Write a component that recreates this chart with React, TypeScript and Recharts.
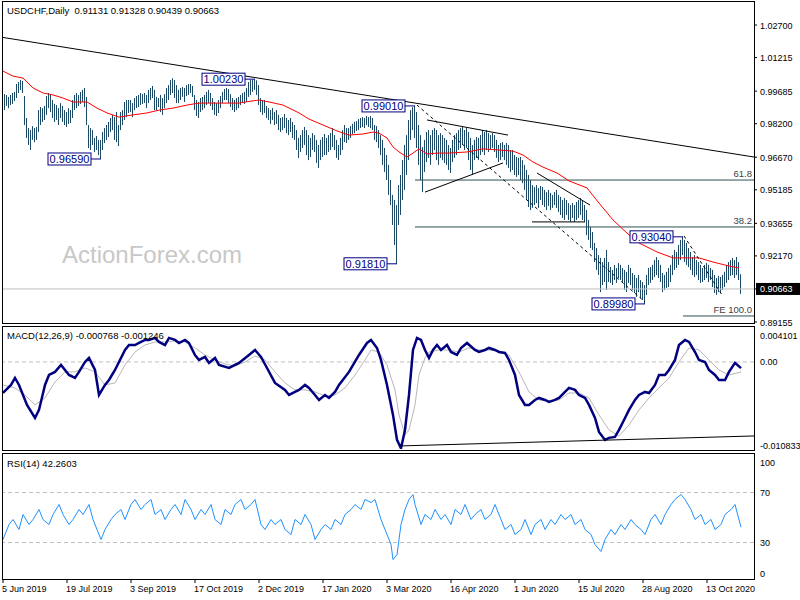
import React from "react";
import { ComposedChart, Bar, Line, XAxis, YAxis, ReferenceLine, ReferenceDot } from "recharts";

// daily bars, 5 Jun 2019 .. end Oct 2020 (index 0 = 5 Jun 2019)
const HIGH = [
  0.9960, 0.9955, 0.9951, 0.9942, 0.9951, 0.9960, 0.9965, 1.0001, 1.0010, 1.0019,
  1.0015, 0.9946, 0.9846, 0.9800, 0.9791, 0.9809, 0.9800, 0.9805, 0.9882, 0.9896,
  0.9891, 0.9901, 0.9946, 0.9960, 0.9951, 0.9928, 0.9910, 0.9905, 0.9891, 0.9914,
  0.9901, 0.9882, 0.9873, 0.9891, 0.9882, 0.9928, 0.9951, 0.9960, 0.9951, 0.9965,
  0.9974, 0.9983, 0.9942, 0.9814, 0.9800, 0.9791, 0.9755, 0.9764, 0.9746, 0.9746,
  0.9782, 0.9800, 0.9814, 0.9828, 0.9846, 0.9860, 0.9850, 0.9873, 0.9814, 0.9873,
  0.9882, 0.9919, 0.9928, 0.9928, 0.9928, 0.9914, 0.9937, 0.9946, 0.9951, 0.9960,
  0.9955, 0.9960, 0.9951, 0.9974, 0.9983, 0.9992, 0.9974, 0.9942, 0.9937, 0.9951,
  0.9937, 0.9955, 0.9983, 0.9996, 1.0019, 1.0027, 1.0019, 0.9996, 0.9974, 0.9983,
  0.9987, 0.9983, 0.9996, 1.0001, 1.0001, 0.9992, 0.9951, 0.9928, 0.9919, 0.9937,
  0.9942, 0.9951, 0.9965, 0.9974, 0.9960, 0.9937, 0.9919, 0.9914, 0.9928, 0.9946,
  0.9965, 0.9978, 0.9983, 0.9978, 0.9955, 0.9937, 0.9928, 0.9937, 0.9942, 0.9951,
  0.9960, 0.9965, 0.9983, 1.0010, 1.0019, 1.0020, 1.0023, 1.0018, 0.9996, 0.9937,
  0.9928, 0.9928, 0.9901, 0.9891, 0.9882, 0.9891, 0.9873, 0.9882, 0.9860, 0.9846,
  0.9850, 0.9864, 0.9846, 0.9837, 0.9846, 0.9828, 0.9814, 0.9791, 0.9755, 0.9768,
  0.9791, 0.9805, 0.9791, 0.9768, 0.9755, 0.9777, 0.9768, 0.9746, 0.9723, 0.9746,
  0.9759, 0.9773, 0.9755, 0.9768, 0.9777, 0.9800, 0.9768, 0.9746, 0.9723, 0.9755,
  0.9791, 0.9814, 0.9800, 0.9800, 0.9809, 0.9819, 0.9828, 0.9832, 0.9841, 0.9846,
  0.9850, 0.9846, 0.9855, 0.9850, 0.9855, 0.9846, 0.9814, 0.9809, 0.9791, 0.9768,
  0.9746, 0.9709, 0.9677, 0.9632, 0.9563, 0.9495, 0.9472, 0.9449, 0.9540, 0.9586,
  0.9654, 0.9723, 0.9768, 0.9837, 0.9882, 0.9895, 0.9901, 0.9873, 0.9814, 0.9768,
  0.9714, 0.9746, 0.9782, 0.9791, 0.9768, 0.9791, 0.9800, 0.9791, 0.9768, 0.9777,
  0.9768, 0.9755, 0.9746, 0.9723, 0.9709, 0.9746, 0.9768, 0.9777, 0.9791, 0.9800,
  0.9805, 0.9791, 0.9800, 0.9782, 0.9755, 0.9723, 0.9746, 0.9759, 0.9755, 0.9768,
  0.9791, 0.9782, 0.9791, 0.9777, 0.9768, 0.9777, 0.9768, 0.9746, 0.9723, 0.9732,
  0.9736, 0.9723, 0.9732, 0.9723, 0.9700, 0.9700, 0.9677, 0.9668, 0.9664, 0.9668,
  0.9654, 0.9632, 0.9609, 0.9586, 0.9563, 0.9540, 0.9531, 0.9540, 0.9527, 0.9536,
  0.9531, 0.9518, 0.9508, 0.9518, 0.9504, 0.9495, 0.9508, 0.9518, 0.9495, 0.9486,
  0.9472, 0.9481, 0.9472, 0.9458, 0.9449, 0.9458, 0.9449, 0.9463, 0.9472, 0.9481,
  0.9472, 0.9449, 0.9426, 0.9381, 0.9349, 0.9326, 0.9276, 0.9253, 0.9221, 0.9208,
  0.9189, 0.9208, 0.9244, 0.9189, 0.9166, 0.9153, 0.9176, 0.9162, 0.9185, 0.9176,
  0.9162, 0.9153, 0.9144, 0.9176, 0.9162, 0.9139, 0.9130, 0.9116, 0.9130, 0.9107,
  0.9098, 0.9084, 0.9130, 0.9162, 0.9166, 0.9176, 0.9198, 0.9212, 0.9198, 0.9176,
  0.9139, 0.9130, 0.9144, 0.9162, 0.9176, 0.9221, 0.9244, 0.9235, 0.9267, 0.9290,
  0.9304, 0.9290, 0.9276, 0.9253, 0.9235, 0.9212, 0.9221, 0.9198, 0.9189, 0.9176,
  0.9162, 0.9176, 0.9185, 0.9176, 0.9162, 0.9153, 0.9130, 0.9116, 0.9126, 0.9121,
  0.9130, 0.9144, 0.9176, 0.9189, 0.9198, 0.9208, 0.9198, 0.9212, 0.9189, 0.9133,
];

const LOW = [
  0.9860, 0.9882, 0.9901, 0.9891, 0.9905, 0.9910, 0.9923, 0.9937, 0.9960, 0.9974,
  0.9960, 0.9814, 0.9755, 0.9723, 0.9700, 0.9746, 0.9736, 0.9746, 0.9782, 0.9814,
  0.9828, 0.9837, 0.9860, 0.9891, 0.9873, 0.9846, 0.9828, 0.9837, 0.9814, 0.9846,
  0.9828, 0.9814, 0.9805, 0.9819, 0.9823, 0.9846, 0.9882, 0.9891, 0.9901, 0.9910,
  0.9919, 0.9896, 0.9814, 0.9709, 0.9700, 0.9723, 0.9691, 0.9700, 0.9677, 0.9659,
  0.9700, 0.9732, 0.9746, 0.9759, 0.9782, 0.9791, 0.9746, 0.9736, 0.9718, 0.9791,
  0.9814, 0.9837, 0.9850, 0.9869, 0.9873, 0.9850, 0.9882, 0.9891, 0.9896, 0.9905,
  0.9910, 0.9914, 0.9891, 0.9914, 0.9928, 0.9937, 0.9882, 0.9882, 0.9896, 0.9873,
  0.9860, 0.9891, 0.9914, 0.9928, 0.9951, 0.9960, 0.9937, 0.9914, 0.9914, 0.9928,
  0.9942, 0.9919, 0.9946, 0.9951, 0.9960, 0.9942, 0.9882, 0.9855, 0.9846, 0.9873,
  0.9882, 0.9891, 0.9905, 0.9914, 0.9901, 0.9882, 0.9860, 0.9855, 0.9869, 0.9891,
  0.9914, 0.9928, 0.9928, 0.9914, 0.9896, 0.9882, 0.9873, 0.9882, 0.9891, 0.9905,
  0.9914, 0.9910, 0.9919, 0.9942, 0.9951, 0.9965, 0.9974, 0.9951, 0.9905, 0.9873,
  0.9860, 0.9869, 0.9846, 0.9837, 0.9819, 0.9837, 0.9814, 0.9819, 0.9791, 0.9782,
  0.9791, 0.9800, 0.9777, 0.9768, 0.9782, 0.9755, 0.9746, 0.9700, 0.9664, 0.9691,
  0.9709, 0.9723, 0.9677, 0.9654, 0.9668, 0.9700, 0.9691, 0.9641, 0.9618, 0.9654,
  0.9668, 0.9677, 0.9677, 0.9691, 0.9700, 0.9714, 0.9700, 0.9664, 0.9654, 0.9677,
  0.9700, 0.9736, 0.9732, 0.9746, 0.9755, 0.9773, 0.9777, 0.9787, 0.9791, 0.9800,
  0.9805, 0.9800, 0.9814, 0.9805, 0.9800, 0.9791, 0.9746, 0.9736, 0.9709, 0.9677,
  0.9632, 0.9600, 0.9563, 0.9495, 0.9449, 0.9358, 0.9267, 0.9181, 0.9358, 0.9404,
  0.9472, 0.9518, 0.9586, 0.9654, 0.9746, 0.9791, 0.9755, 0.9709, 0.9632, 0.9563,
  0.9508, 0.9600, 0.9645, 0.9664, 0.9632, 0.9677, 0.9700, 0.9654, 0.9632, 0.9664,
  0.9654, 0.9641, 0.9632, 0.9609, 0.9595, 0.9645, 0.9664, 0.9677, 0.9700, 0.9709,
  0.9723, 0.9700, 0.9709, 0.9654, 0.9609, 0.9586, 0.9654, 0.9664, 0.9654, 0.9677,
  0.9691, 0.9677, 0.9700, 0.9691, 0.9700, 0.9709, 0.9691, 0.9664, 0.9645, 0.9654,
  0.9668, 0.9654, 0.9632, 0.9618, 0.9600, 0.9609, 0.9586, 0.9577, 0.9586, 0.9563,
  0.9549, 0.9518, 0.9472, 0.9440, 0.9426, 0.9436, 0.9449, 0.9458, 0.9436, 0.9472,
  0.9449, 0.9440, 0.9426, 0.9445, 0.9426, 0.9436, 0.9449, 0.9436, 0.9417, 0.9404,
  0.9390, 0.9381, 0.9404, 0.9381, 0.9372, 0.9390, 0.9372, 0.9381, 0.9390, 0.9404,
  0.9381, 0.9372, 0.9312, 0.9290, 0.9253, 0.9244, 0.9189, 0.9153, 0.9130, 0.9052,
  0.9084, 0.9098, 0.9062, 0.9098, 0.9094, 0.9084, 0.9107, 0.9094, 0.9116, 0.9107,
  0.9098, 0.9062, 0.9052, 0.9094, 0.9084, 0.9062, 0.9048, 0.9030, 0.9052, 0.9025,
  0.9016, 0.8998, 0.9039, 0.9084, 0.9094, 0.9107, 0.9121, 0.9130, 0.9116, 0.9098,
  0.9052, 0.9062, 0.9071, 0.9075, 0.9098, 0.9130, 0.9153, 0.9162, 0.9176, 0.9198,
  0.9221, 0.9189, 0.9176, 0.9166, 0.9153, 0.9130, 0.9121, 0.9130, 0.9107, 0.9094,
  0.9098, 0.9107, 0.9116, 0.9098, 0.9107, 0.9075, 0.9048, 0.9039, 0.9052, 0.9048,
  0.9062, 0.9075, 0.9094, 0.9107, 0.9126, 0.9130, 0.9116, 0.9130, 0.9107, 0.9044,
];

// red moving average, read at [bar index, value]
const MA = [
  [0, 1.006], [5, 1.0037], [10, 1.0028], [15, 0.9983], [20, 0.996], [25, 0.9951], [30, 0.9937], [35, 0.9919],
  [42, 0.9919], [47, 0.9891], [52, 0.9869], [58, 0.985], [65, 0.986], [72, 0.9869], [78, 0.9882], [85, 0.9891],
  [92, 0.9905], [98, 0.9914], [105, 0.9914], [112, 0.9914], [118, 0.9914], [124, 0.9923], [128, 0.9928], [133, 0.9919],
  [140, 0.9905], [148, 0.9869], [153, 0.9841], [160, 0.9814], [167, 0.9787], [173, 0.9768], [180, 0.9773], [185, 0.9782],
  [188, 0.9777], [192, 0.9755], [195, 0.9714], [198, 0.9691], [202, 0.9668], [205, 0.9686], [208, 0.9705], [212, 0.9682],
  [217, 0.9686], [223, 0.9686], [232, 0.9691], [240, 0.9705], [248, 0.97], [255, 0.9695], [260, 0.9677], [265, 0.9645],
  [270, 0.9622], [277, 0.9595], [283, 0.9559], [292, 0.9527], [298, 0.9458], [305, 0.9381], [312, 0.9321], [318, 0.9276],
  [327, 0.9235], [335, 0.9208], [342, 0.9208], [348, 0.9208], [355, 0.9189], [363, 0.9171], [368, 0.9162],
];

const MACD = [
  [0, -0.00386], [4, -0.00286], [6, -0.00199], [8, -0.00286], [12, -0.00535], [16, -0.00697], [18, -0.00597], [21, -0.00286],
  [23, -0.00162], [26, -0.00124], [29, -0.00037], [33, -0.00162], [36, -0.00199], [38, -0.00124], [41, 0], [43, 0.0005],
  [46, -0.001], [48, -0.00411], [51, -0.00286], [53, -0.00224], [56, -0.001], [61, 0.00149], [63, 0.00211], [66, 0.00211],
  [68, 0.00236], [71, 0.00274], [73, 0.00274], [76, 0.00299], [78, 0.00249], [81, 0.00211], [83, 0.00299], [86, 0.00274],
  [88, 0.00236], [91, 0.00274], [93, 0.00236], [96, 0.00087], [98, 0.00025], [101, 0.00062], [103, -0.00012], [106, 0.0005],
  [108, -0.00037], [113, -0.00075], [118, -0.00012], [123, 0.00087], [126, 0.00149], [129, 0.00062], [132, -0.00075], [136, -0.00261],
  [141, -0.00348], [143, -0.00411], [146, -0.00373], [148, -0.00348], [151, -0.00286], [153, -0.00323], [156, -0.00411], [158, -0.00473],
  [161, -0.00411], [163, -0.00448], [166, -0.00373], [168, -0.00286], [173, -0.00124], [178, 0.00087], [182, 0.00236], [184, 0.00274],
  [187, 0.00174], [189, 0.00025], [192, -0.00286], [195, -0.00659], [197, -0.0097], [199, -0.01075], [201, -0.00846], [203, -0.00411],
  [205, 0.00149], [207, 0.00299], [209, 0.00274], [211, 0.00149], [213, 0.0005], [215, 0.00149], [217, 0.00211], [219, 0.00149],
  [222, 0.00211], [224, 0.00124], [227, 0.00087], [229, 0.00174], [232, 0.00236], [236, 0.00149], [238, 0.00124], [241, 0.00149],
  [243, 0.00174], [246, 0.00149], [248, 0.00124], [251, 0.00112], [253, 0.00025], [256, -0.00162], [258, -0.00411], [261, -0.00535],
  [263, -0.00535], [266, -0.00473], [268, -0.00448], [271, -0.00473], [273, -0.00498], [276, -0.00473], [278, -0.00448], [281, -0.00373],
  [283, -0.00323], [286, -0.00348], [288, -0.00411], [291, -0.00448], [293, -0.00535], [296, -0.00697], [298, -0.00871], [301, -0.0097],
  [303, -0.00945], [306, -0.00933], [308, -0.00846], [311, -0.00697], [313, -0.00597], [316, -0.00473], [318, -0.00411], [321, -0.00373],
  [323, -0.00386], [326, -0.00286], [328, -0.00162], [331, -0.00162], [333, -0.001], [336, 0.00025], [338, 0.00211], [341, 0.00274],
  [343, 0.00249], [346, 0.00124], [348, 0.00025], [351, 0], [353, -0.001], [356, -0.00162], [358, -0.00224], [361, -0.00224],
  [363, -0.00124], [366, -0.00012], [369, -0.000768],
];

const SIGNAL = [
  [0, -0.00286], [6, -0.00323], [11, -0.00411], [16, -0.00535], [21, -0.00448], [26, -0.00249], [31, -0.00124], [36, -0.00124],
  [41, -0.00075], [46, -0.00124], [51, -0.00286], [56, -0.00261], [61, -0.00037], [66, 0.00124], [71, 0.00211], [76, 0.00249],
  [81, 0.00249], [86, 0.00261], [91, 0.00249], [96, 0.00174], [101, 0.00087], [106, 0.00025], [111, -0.00025], [116, -0.0005],
  [121, 0], [126, 0.00075], [131, 0.00025], [136, -0.00124], [141, -0.00261], [146, -0.00348], [151, -0.00348], [156, -0.00373],
  [161, -0.00423], [166, -0.00411], [171, -0.00323], [176, -0.00162], [181, 0.00025], [184, 0.00149], [188, 0.00124], [192, -0.00037],
  [196, -0.00348], [198, -0.00659], [201, -0.00908], [203, -0.00846], [206, -0.00535], [208, -0.00162], [211, 0.0005], [213, 0.00124],
  [218, 0.00149], [223, 0.00149], [228, 0.00124], [233, 0.00174], [238, 0.00149], [243, 0.00149], [248, 0.00137], [253, 0.00087],
  [258, -0.00124], [263, -0.00373], [268, -0.00473], [273, -0.00485], [278, -0.00473], [283, -0.00386], [288, -0.00386], [293, -0.00448],
  [298, -0.00659], [303, -0.00846], [308, -0.00921], [313, -0.00784], [318, -0.00597], [323, -0.00448], [328, -0.00323], [333, -0.00199],
  [338, 0], [343, 0.00174], [348, 0.00149], [353, 0.00025], [358, -0.001], [363, -0.00162], [369, -0.001246],
];

const RSI = [
  [0, 32.4], [3, 44.4], [5, 48.4], [8, 40.4], [10, 52.4], [13, 44.4], [15, 48.4], [18, 56.4], [20, 48.4], [23, 44.4],
  [25, 52.4], [28, 60.4], [30, 52.4], [33, 44.4], [35, 48.4], [38, 56.4], [40, 52.4], [43, 60.4], [45, 48.4], [49, 32.4],
  [51, 40.4], [54, 48.4], [56, 52.4], [59, 56.4], [61, 48.4], [64, 60.4], [66, 64.4], [69, 56.4], [71, 60.4], [74, 64.4],
  [76, 52.4], [79, 56.4], [81, 48.4], [84, 56.4], [86, 60.4], [89, 52.4], [91, 64.4], [94, 56.4], [96, 48.4], [99, 56.4],
  [101, 52.4], [104, 60.4], [106, 48.4], [109, 44.4], [111, 56.4], [114, 52.4], [116, 60.4], [119, 64.4], [121, 56.4], [124, 60.4],
  [126, 64.4], [129, 44.4], [131, 40.4], [134, 48.4], [136, 44.4], [139, 48.4], [141, 40.4], [144, 36.4], [146, 48.4], [149, 44.4],
  [151, 52.4], [154, 44.4], [156, 32.4], [159, 40.4], [161, 44.4], [164, 40.4], [166, 48.4], [169, 44.4], [171, 52.4], [174, 56.4],
  [176, 60.4], [179, 56.4], [181, 64.4], [184, 62], [186, 64.4], [189, 48.4], [191, 40.4], [194, 28.4], [195, 16.4], [197, 20.4],
  [199, 44.4], [201, 56.4], [203, 64.4], [205, 68.4], [206, 60.4], [209, 44.4], [211, 52.4], [214, 48.4], [216, 56.4], [219, 48.4],
  [221, 52.4], [224, 44.4], [226, 56.4], [229, 52.4], [231, 60.4], [234, 48.4], [236, 52.4], [239, 56.4], [241, 48.4], [244, 52.4],
  [246, 60.4], [249, 48.4], [251, 40.4], [254, 44.4], [256, 36.4], [259, 40.4], [261, 48.4], [264, 36.4], [266, 44.4], [269, 48.4],
  [271, 40.4], [274, 48.4], [276, 44.4], [279, 52.4], [281, 48.4], [284, 52.4], [286, 44.4], [289, 48.4], [291, 40.4], [294, 36.4],
  [296, 28.4], [299, 22.8], [301, 32.4], [304, 40.4], [306, 36.4], [309, 44.4], [311, 40.4], [314, 48.4], [316, 44.4], [319, 40.4],
  [321, 36.4], [324, 48.4], [326, 52.4], [329, 44.4], [331, 52.4], [334, 60.4], [336, 64.4], [339, 68.4], [341, 64.4], [344, 56.4],
  [346, 48.4], [349, 52.4], [351, 44.4], [354, 48.4], [356, 40.4], [359, 44.4], [361, 52.4], [364, 56.4], [366, 60.4], [369, 42.26],
];

const DATE_TICKS = [0, 32, 64, 96, 128, 160, 192, 224, 256, 288, 320, 352];
const DATE_LABELS = [
  "5 Jun 2019", "19 Jul 2019", "3 Sep 2019", "17 Oct 2019", "2 Dec 2019", "17 Jan 2020",
  "3 Mar 2020", "16 Apr 2020", "1 Jun 2020", "15 Jul 2020", "28 Aug 2020", "13 Oct 2020",
];
const PRICE_TICKS = [1.027, 1.01215, 0.99685, 0.982, 0.9667, 0.95185, 0.93655, 0.9217, 0.90663, 0.89155];
const LAST = 0.90663;

const SWING_IDX = [49, 126, 197, 206, 321, 340];
const SWING_PRICE = [0.9659, 1.0023, 0.9181, 0.9901, 0.8998, 0.9304];

// hand-drawn lines: [i1, p1, i2, p2]
const TRENDS = [
  [-0.5, 1.0214, 375.5, 0.9668],
  [212, 0.9837, 252.5, 0.9768],
  [211, 0.9508, 250, 0.9641],
  [267, 0.9595, 293.5, 0.9449],
  [264.5, 0.9372, 291, 0.9372],
];
const DASHED = [
  [207, 0.9905, 321, 0.9007],
  [340.5, 0.9308, 359.5, 0.9039],
];
const FIB_LEVELS = [0.9563, 0.9349];
const FIB_NAMES = ["61.8", "38.2"];
const FE_LEVEL = 0.8943;

const FONT = '"Liberation Sans", Arial, sans-serif';
const BAR_COLOR = "#1C4A66";
const NAVY = "#000080";
const FIB_COLOR = "#2F4F4F";
const X_DOMAIN: [number, number] = [-0.5, 375.5];

const priceRows = HIGH.map((h, i) => ({ i, hl: [LOW[i], h], ma: null as number | null }));
MA.forEach(([i, v]) => (priceRows[i].ma = v));

const macdRows = HIGH.map((_, i) => ({ i, macd: null as number | null, sig: null as number | null }));
MACD.forEach(([i, v]) => (macdRows[i].macd = v));
SIGNAL.forEach(([i, v]) => (macdRows[i].sig = v));

const rsiRows = HIGH.map((_, i) => ({ i, rsi: null as number | null }));
RSI.forEach(([i, v]) => (rsiRows[i].rsi = v));

function Stick(props: any) {
  const { x, y, width, height } = props;
  if (x == null || y == null) return null;
  return <rect x={Math.round(x + width / 2 - 0.5)} y={y} width={1} height={Math.max(1, height)} fill={BAR_COLOR} />;
}

function SwingTag(props: any) {
  const { cx, cy, text } = props;
  const right = cx - 10;
  return (
    <g>
      <line x1={right} y1={cy} x2={cx} y2={cy} stroke={NAVY} />
      <rect x={right - 43} y={cy - 6} width={43} height={12} fill="#fff" stroke={NAVY} />
      <text x={right - 21.5} y={cy + 4} textAnchor="middle" fontSize={11} fill={NAVY} fontFamily={FONT}>
        {text}
      </text>
    </g>
  );
}

function LevelLabel(props: any) {
  const vb = props.viewBox || {};
  return (
    <text x={(vb.x || 0) + (vb.width || 0) - 2} y={(vb.y || 0) - 3} textAnchor="end" fontSize={9.5} fill="#404040" fontFamily={FONT}>
      {props.text}
    </text>
  );
}

function PriceTick(props: any) {
  const { x, y, payload } = props;
  const v = payload.value;
  if (v === LAST) {
    return (
      <g>
        <rect x={x - 4} y={y - 6} width={46} height={12} fill="#000" />
        <text x={x} y={y + 3.5} fontSize={9} fill="#fff" fontFamily={FONT}>{v.toFixed(5)}</text>
      </g>
    );
  }
  return <text x={x} y={y + 3.5} fontSize={9} fill="#000" fontFamily={FONT}>{v.toFixed(5)}</text>;
}

function MacdTick(props: any) {
  const { x, y, payload } = props;
  const v = payload.value;
  const label = v === 0 ? "0.00" : v.toFixed(6);
  const dy = v > 0.003 ? 6 : v < -0.01 ? -4 : 0;
  return <text x={x} y={y + dy + 3.5} fontSize={9} fill="#000" fontFamily={FONT}>{label}</text>;
}

function RsiTick(props: any) {
  const { x, y, payload } = props;
  const v = payload.value;
  const dy = v === 100 ? 7 : v === 0 ? -7 : 0;
  return <text x={x} y={y + dy + 3.5} fontSize={9} fill="#000" fontFamily={FONT}>{v}</text>;
}

function DateTick(props: any) {
  const { x, y, payload } = props;
  const k = DATE_TICKS.indexOf(payload.value);
  return <text x={x - 1} y={y + 7} fontSize={9} fill="#000" fontFamily={FONT}>{DATE_LABELS[k]}</text>;
}

export default function App() {
  return (
    <div style={{ position: "relative", width: 800, height: 600, background: "#fff", fontFamily: FONT, overflow: "hidden" }}>
      <style>{"body{margin:0}"}</style>

      <div style={{ position: "absolute", left: 0, top: 326 }}>
        <ComposedChart width={800} height={126} data={macdRows} margin={{ top: 3, right: 0, bottom: 3, left: 2 }}>
          <XAxis dataKey="i" type="number" domain={X_DOMAIN} hide allowDataOverflow />
          <YAxis orientation="right" width={46} domain={[-0.010833, 0.004101]} allowDataOverflow ticks={[0.004101, 0, -0.010833]}
            interval={0} tick={<MacdTick />} tickSize={3} tickMargin={3} axisLine={false} tickLine={false} />
          <ReferenceLine y={0} stroke="#C0C0C0" strokeDasharray="4 3" />
          <Line dataKey="sig" stroke="#B8B8B8" strokeWidth={1} dot={false} connectNulls isAnimationActive={false} />
          <Line dataKey="macd" stroke={NAVY} strokeWidth={2.5} dot={false} connectNulls isAnimationActive={false} />
          <ReferenceLine segment={[{ x: 198.5, y: -0.01045 }, { x: 375.5, y: -0.00921 }]} stroke="#000" />
        </ComposedChart>
      </div>

      <div style={{ position: "absolute", left: 0, top: 452 }}>
        <ComposedChart width={800} height={148} data={rsiRows} margin={{ top: 3, right: 0, bottom: 0, left: 2 }}>
          <XAxis dataKey="i" type="number" domain={X_DOMAIN} allowDataOverflow ticks={DATE_TICKS} interval={0} height={20}
            tick={<DateTick />} tickSize={3} tickMargin={2} axisLine={false} tickLine={{ stroke: "#000" }} />
          <YAxis orientation="right" width={46} domain={[0, 100]} ticks={[100, 70, 30, 0]} interval={0}
            tick={<RsiTick />} tickSize={3} tickMargin={3} axisLine={false} tickLine={false} />
          <ReferenceLine y={70} stroke="#C0C0C0" strokeDasharray="4 3" />
          <ReferenceLine y={30} stroke="#C0C0C0" strokeDasharray="4 3" />
          <Line dataKey="rsi" stroke="#1E90FF" strokeWidth={1} dot={false} connectNulls isAnimationActive={false} />
        </ComposedChart>
      </div>

      <div style={{ position: "absolute", left: 0, top: 0 }}>
        <ComposedChart width={800} height={332} data={priceRows} margin={{ top: 2, right: 0, bottom: 9, left: 2 }}>
          <XAxis dataKey="i" type="number" domain={X_DOMAIN} hide allowDataOverflow />
          <YAxis orientation="right" width={46} domain={[0.8911, 1.0375]} allowDataOverflow ticks={PRICE_TICKS} interval={0}
            tick={<PriceTick />} tickSize={3} tickMargin={3} axisLine={false} tickLine={{ stroke: "#000" }} />
          <ReferenceLine y={LAST} stroke="#C0C0C0" />
          {FIB_LEVELS.map((p, k) => (
            <ReferenceLine key={FIB_NAMES[k]} segment={[{ x: 206, y: p }, { x: 375.5, y: p }]} stroke={FIB_COLOR}
              label={<LevelLabel text={FIB_NAMES[k]} />} />
          ))}
          <ReferenceLine segment={[{ x: 340, y: FE_LEVEL }, { x: 375.5, y: FE_LEVEL }]} stroke={FIB_COLOR}
            label={<LevelLabel text="FE 100.0" />} />
          <Bar dataKey="hl" barSize={1} shape={<Stick />} isAnimationActive={false} />
          <Line dataKey="ma" stroke="#FF0000" strokeWidth={1} dot={false} connectNulls isAnimationActive={false} />
          {TRENDS.map((t, k) => (
            <ReferenceLine key={"t" + k} segment={[{ x: t[0], y: t[1] }, { x: t[2], y: t[3] }]} stroke="#000" />
          ))}
          {DASHED.map((t, k) => (
            <ReferenceLine key={"d" + k} segment={[{ x: t[0], y: t[1] }, { x: t[2], y: t[3] }]} stroke="#000" strokeDasharray="3 3" />
          ))}
          {SWING_IDX.map((i, k) => (
            <ReferenceDot key={"s" + k} x={i} y={SWING_PRICE[k]} r={0} ifOverflow="visible"
              shape={(p: any) => <SwingTag {...p} text={SWING_PRICE[k].toFixed(5)} />} />
          ))}
        </ComposedChart>
      </div>

      <svg width={800} height={600} style={{ position: "absolute", left: 0, top: 0, pointerEvents: "none" }}>
        <rect x={2.5} y={1.5} width={752} height={322} fill="none" stroke="#000" />
        <rect x={2.5} y={326.5} width={752} height={124} fill="none" stroke="#000" />
        <rect x={2.5} y={453.5} width={752} height={126} fill="none" stroke="#000" />
        <text x={7} y={14} fontSize={9.5} fill="#000" fontFamily={FONT} style={{ whiteSpace: "pre" }}>
          USDCHF,Daily  0.91131 0.91328 0.90439 0.90663
        </text>
        <text x={7} y={339} fontSize={9.5} fill="#000" fontFamily={FONT}>MACD(12,26,9) -0.000768 -0.001246</text>
        <text x={7} y={467} fontSize={9.5} fill="#000" fontFamily={FONT}>RSI(14) 42.2603</text>
        <text x={62} y={263} fontSize={24} fill="#C8C8C8" fontFamily={FONT}>ActionForex.com</text>
      </svg>
    </div>
  );
}
